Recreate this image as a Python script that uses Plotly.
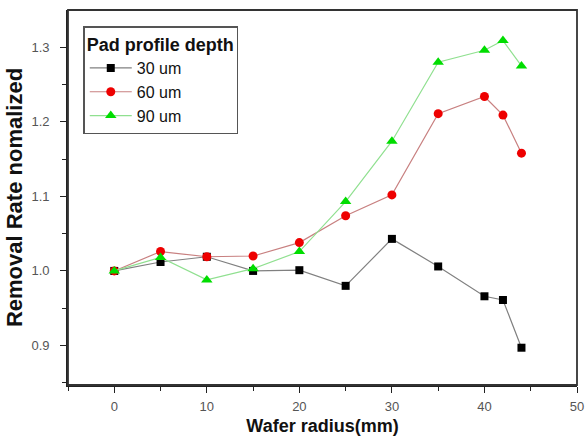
import plotly.graph_objects as go

radius = [0, 5, 10, 15, 20, 25, 30, 35, 40, 42, 44]
rate_30um = [1.000, 1.012, 1.019, 1.000, 1.001, 0.980, 1.043, 1.006, 0.966, 0.961, 0.897]
rate_60um = [1.000, 1.026, 1.019, 1.020, 1.038, 1.074, 1.102, 1.211, 1.234, 1.209, 1.158]
rate_90um = [1.000, 1.018, 0.988, 1.003, 1.026, 1.093, 1.174, 1.280, 1.296, 1.309, 1.275]
series_names = ["30 um", "60 um", "90 um"]
x_ticks = [0, 10, 20, 30, 40, 50]
x_minor = [-5, 5, 15, 25, 35, 45]
y_ticks = [0.9, 1.0, 1.1, 1.2, 1.3]
y_minor = [0.85, 0.95, 1.05, 1.15, 1.25]

fig = go.Figure()
styles = [
    (rate_30um, "square", "#000000", "#808080", 8),
    (rate_60um, "circle", "#ee0000", "#c88080", 9),
    (rate_90um, "triangle-up", "#00dd00", "#90e090", 10),
]
for name, (vals, sym, mc, lc, ms) in zip(series_names, styles):
    fig.add_trace(go.Scatter(
        x=radius, y=vals, name=name, mode="lines+markers",
        line=dict(color=lc, width=1.2),
        marker=dict(symbol=sym, color=mc, size=ms, line=dict(width=0)),
    ))

axis_common = dict(
    showline=True, linecolor="#222", linewidth=1.6,
    ticks="outside", ticklen=6, tickwidth=1.3, tickcolor="#222",
    showgrid=False, zeroline=False, automargin=False, ticklabeloverflow="allow",
    tickfont=dict(family="Liberation Sans, Arial", size=13, color="#555"),
)
fig.update_layout(
    width=585, height=442,
    margin=dict(l=68, r=8, t=10, b=57),
    paper_bgcolor="white", plot_bgcolor="white",
    font=dict(family="Liberation Sans, Arial", color="#111"),
    xaxis=dict(
        range=[-5, 50], tickvals=x_ticks, ticklabelstandoff=3,
        minor=dict(tickvals=x_minor, ticklen=4, tickcolor="#222", ticks="outside"),
        title=dict(text="<b>Wafer radius(mm)</b>", font=dict(size=18, color="#111"), standoff=6),
        **axis_common,
    ),
    yaxis=dict(
        range=[0.847, 1.35], tickvals=y_ticks, tickformat=".1f", ticklabelstandoff=8,
        minor=dict(tickvals=y_minor, ticklen=4, tickcolor="#222", ticks="outside"),
        title=dict(text="<b>Removal Rate nomalized</b>", font=dict(size=22, color="#111"), standoff=3),
        **axis_common,
    ),
    legend=dict(
        x=0.03, y=0.957, xanchor="left", yanchor="top",
        bordercolor="#555", borderwidth=1.5, bgcolor="white",
        title=dict(text="<b>Pad profile depth</b>", font=dict(size=18, color="#111"), side="top"),
        font=dict(size=16, color="#111"),
        tracegroupgap=0, itemwidth=42,
    ),
    showlegend=True,
)
fig.add_shape(type="rect", xref="paper", yref="paper", x0=0, x1=1, y0=0, y1=1,
              line=dict(color="#333", width=1.8), layer="above")
fig.write_html("out.html", config={"displayModeBar": False},
               post_script="document.body.style.margin='0';document.body.style.overflow='hidden';")
